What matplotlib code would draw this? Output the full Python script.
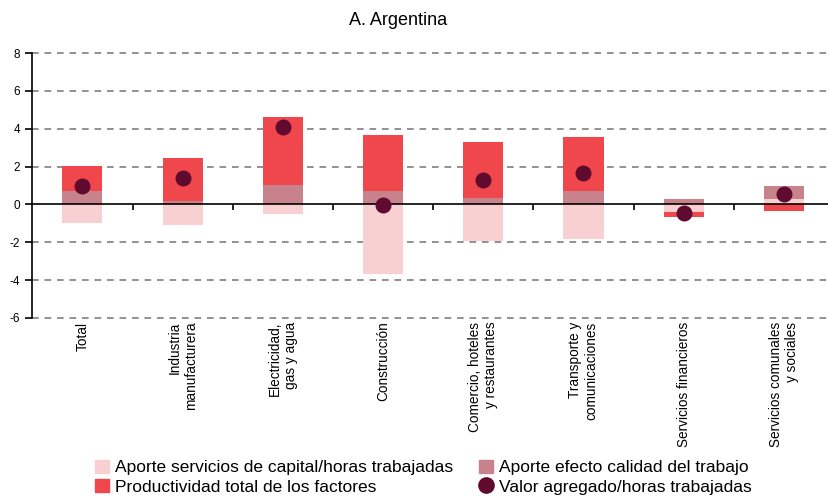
import numpy as np
import matplotlib
matplotlib.use("Agg")
import matplotlib.pyplot as plt
from matplotlib.patches import Patch
from matplotlib.lines import Line2D

plt.rcParams['font.family'] = ['Liberation Sans', 'DejaVu Sans']
plt.rcParams['axes.unicode_minus'] = False

categories = ["Total", "Industria\nmanufacturera", "Electricidad,\ngas y agua",
              "Construcción", "Comercio, hoteles\ny restaurantes",
              "Transporte y\ncomunicaciones", "Servicios financieros",
              "Servicios comunales\ny sociales"]
capital = [-1.00, -1.07, -0.49, -3.68, -1.92, -1.85, -0.38, 0.28]
calidad = [0.70, 0.18, 1.02, 0.70, 0.34, 0.71, 0.27, 0.69]
ptf = [1.33, 2.27, 3.60, 2.95, 2.94, 2.85, -0.29, -0.37]
valor = [0.99, 1.38, 4.09, -0.02, 1.31, 1.68, -0.47, 0.57]

c_cap = "#F9D0D1"
c_cal = "#C8828C"
c_ptf = "#EF474B"
c_dot = "#5F0A2E"

fig = plt.figure(figsize=(8.29, 4.96), dpi=100)
ax = fig.add_axes([0.039, 0.359, 0.961, 0.534])

x = np.arange(len(categories))
w = 0.4
pos = np.zeros(len(x))
neg = np.zeros(len(x))
for vals, col in [(capital, c_cap), (calidad, c_cal), (ptf, c_ptf)]:
    v = np.array(vals)
    bottom = np.where(v >= 0, pos, neg)
    ax.bar(x, v, w, bottom=bottom, color=col, zorder=3)
    pos = pos + np.where(v >= 0, v, 0)
    neg = neg + np.where(v < 0, v, 0)

ax.scatter(x, valor, s=110, color=c_dot, zorder=5)

ax.set_xlim(-0.5, 7.45)
ax.set_ylim(-6, 8)
ax.set_yticks(range(-6, 9, 2))
for yv in range(-6, 9, 2):
    if yv != 0:
        ax.axhline(yv, color="#7f7f7f", lw=1.2, ls=(0, (4, 3.5)), zorder=1, clip_on=False)

for s in ["top", "right"]:
    ax.spines[s].set_visible(False)
ax.spines["left"].set_linewidth(1.2)
ax.spines["bottom"].set_position(("data", 0))
ax.spines["bottom"].set_linewidth(1.2)
ax.spines["bottom"].set_zorder(4)
ax.set_xticks(np.arange(0.5, 7, 1))
ax.set_xticklabels([])
ax.tick_params(axis="x", direction="out", length=4, width=1.2)
ax.tick_params(axis="y", direction="out", length=5, width=1.2, labelsize=8.5, pad=4)

for i, lab in enumerate(categories):
    ax.text(i, -6.2, lab, rotation=90, ha="center", va="top",
            multialignment="right", fontsize=9.8)

fig.text(0.48, 0.958, "A. Argentina", ha="center", va="center", fontsize=13)

handles = [Patch(color=c_cap), Patch(color=c_ptf), Patch(color=c_cal),
           Line2D([], [], marker="o", ls="", color=c_dot, markersize=11)]
labels = ["Aporte servicios de capital/horas trabajadas",
          "Productividad total de los factores",
          "Aporte efecto calidad del trabajo",
          "Valor agregado/horas trabajadas"]
fig.legend(handles, labels, ncol=2, loc="center", bbox_to_anchor=(0.511, 0.038),
           frameon=False, fontsize=12.5, handlelength=0.8, handleheight=0.8,
           handletextpad=0.35, columnspacing=1.5, labelspacing=0.2,
           borderpad=0.2)

fig.savefig("out.png", dpi=100)
